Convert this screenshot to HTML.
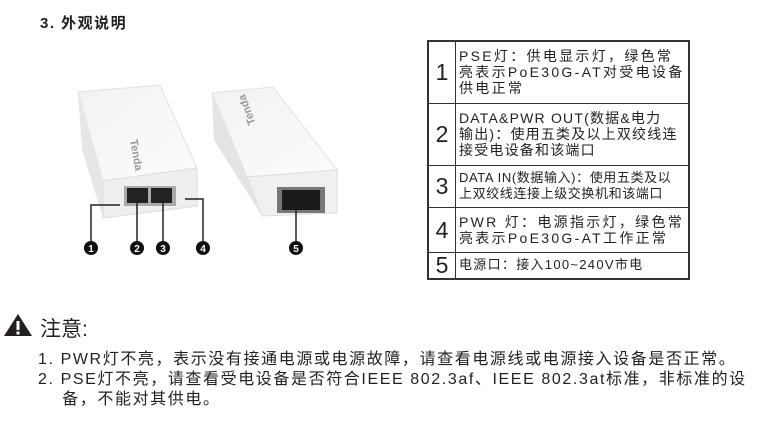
<!DOCTYPE html>
<html><head><meta charset="utf-8"><style>
body{margin:0;width:760px;height:440px;background:#fff;font-family:"Liberation Sans","Noto Sans CJK SC",sans-serif;color:#231f20;position:relative;overflow:hidden}
.a{position:absolute;white-space:nowrap}
table{position:absolute;left:427px;top:40px;border-collapse:collapse;border:2px solid #333}
td{border:1.5px solid #333;padding:0 3px;font-size:14px;line-height:16px;white-space:nowrap}
td.t{width:224px}
td.n{width:26px;text-align:center;font-size:23px;padding:0}
</style></head><body>
<div class="a" style="left:40px;top:12px;font-size:15px;font-weight:bold;letter-spacing:1.5px">3. 外观说明</div>
<svg class="a" style="left:0;top:0" width="420" height="270">
<defs><linearGradient id="g" x1="0" y1="0" x2="1" y2="1"><stop offset="0" stop-color="#f2f2f2"/><stop offset="1" stop-color="#fcfcfc"/></linearGradient></defs>
<polygon points="78,92 160,85 197,168 103,181" fill="url(#g)" stroke="#e0e0e0"/>
<polygon points="78,92 103,181 103,218 82,150" fill="#e6e6e6"/>
<polygon points="103,181 197,168 197,206 103,218" fill="#efefef" stroke="#ddd"/>
<rect x="124" y="186" width="52" height="20" fill="#aaa"/>
<rect x="127" y="188" width="21" height="15" fill="#222"/><rect x="151" y="188" width="21" height="15" fill="#222"/>
<text x="130" y="140" font-size="11" font-weight="bold" fill="#999" transform="rotate(80 130 140)" font-family="Liberation Sans">Tenda</text>
<polygon points="212,93 273,87 337,170 247,177" fill="url(#g)" stroke="#e0e0e0"/>
<polygon points="212,93 247,177 262,216 214,140" fill="#e4e4e4"/>
<polygon points="247,177 337,170 337,213 262,216" fill="#f0f0f0" stroke="#ddd"/>
<rect x="277" y="187" width="48" height="26" fill="#777"/>
<rect x="282" y="190" width="38" height="20" fill="#1a1a1a"/>
<text x="265" y="110" font-size="11" font-weight="bold" fill="#999" transform="rotate(-110 265 120)" font-family="Liberation Sans">Tenda</text>
<g stroke="#222" stroke-width="1.5" fill="none">
<polyline points="91,248 91,205 120,205"/><line x1="137" y1="248" x2="137" y2="200"/><line x1="163" y1="248" x2="163" y2="198"/>
<polyline points="203,248 203,199 185,199"/><line x1="296" y1="248" x2="296" y2="205"/></g>
<g fill="#111"><circle cx="91" cy="248" r="7"/><circle cx="137" cy="248" r="7"/><circle cx="163" cy="248" r="7"/><circle cx="203" cy="248" r="7"/><circle cx="296" cy="248" r="7"/></g>
<g fill="#fff" font-size="10" font-weight="bold" text-anchor="middle" font-family="Liberation Sans">
<text x="91" y="252">1</text><text x="137" y="252">2</text><text x="163" y="252">3</text><text x="203" y="252">4</text><text x="296" y="252">5</text></g>
</svg>
<table>
<tr style="height:62px"><td class="n">1</td><td class="t" style="letter-spacing:2.3px">PSE灯：供电显示灯，绿色常<br>亮表示PoE30G-AT对受电设备<br>供电正常</td></tr>
<tr style="height:62px"><td class="n">2</td><td class="t" style="letter-spacing:1.2px">DATA&amp;PWR OUT(数据&amp;电力<br>输出)：使用五类及以上双绞线连<br>接受电设备和该端口</td></tr>
<tr style="height:42px"><td class="n">3</td><td class="t" style="font-size:13px;letter-spacing:0.6px">DATA IN(数据输入)：使用五类及以<br>上双绞线连接上级交换机和该端口</td></tr>
<tr style="height:45px"><td class="n">4</td><td class="t" style="letter-spacing:2.3px">PWR 灯：电源指示灯，绿色常<br>亮表示PoE30G-AT工作正常</td></tr>
<tr style="height:27px"><td class="n">5</td><td class="t" style="font-size:13px;letter-spacing:1.3px">电源口：接入100~240V市电</td></tr>
</table>
<svg class="a" style="left:4px;top:313px" width="30" height="24"><polygon points="14,1 28,23 0,23" fill="#231f20"/><rect x="12.5" y="8" width="3" height="9" fill="#fff"/><rect x="12.5" y="18.5" width="3" height="3" fill="#fff"/></svg>
<div class="a" style="left:40px;top:313px;font-size:21px">注意:</div>
<div class="a" style="left:38px;top:350px;font-size:16px;line-height:20px;letter-spacing:1.6px">1. PWR灯不亮，表示没有接通电源或电源故障，请查看电源线或电源接入设备是否正常。<br>2. PSE灯不亮，请查看受电设备是否符合IEEE 802.3af、IEEE 802.3at标准，非标准的设<br>&nbsp;&nbsp;&nbsp;&nbsp;备，不能对其供电。</div>
</body></html>
